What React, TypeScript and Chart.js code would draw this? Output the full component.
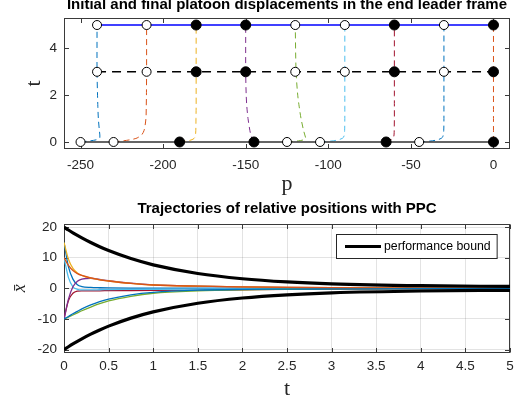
import React, { useEffect, useRef } from "react";
import { Chart, registerables } from "chart.js";

Chart.register(...registerables);

// ---------------- Top subplot data ----------------
const TOP_TITLE = "Initial and final platoon displacements in the end leader frame";
const P_TICKS = [-250, -200, -150, -100, -50, 0];
const T_TICKS_TOP = [0, 2, 4];
const INIT_P = [-250, -230, -190, -145, -125, -105, -65, -45, 0];
const FINAL_P = [-240, -210, -180, -150, -120, -90, -60, -30, 0];
const FILLED = [false, false, true, true, false, false, true, false, true];
const START_T = 0;
const MID_T = 3;
const END_T = 5;
const TRAJ_T = [0, 0.05, 0.1, 0.15, 0.2, 0.3, 0.5, 1, 1.5, 2, 3, 5];
const TRAJ_1 = [-250, -244, -240, -238.6, -238.3, -238.3, -238.6, -239.2, -239.5, -239.7, -240, -240];
const TRAJ_2 = [-230, -224, -219.5, -216.5, -215, -213, -211.5, -210.4, -210.2, -210.1, -210, -210];
const TRAJ_3 = [-190, -185, -182.5, -181.3, -180.8, -180.4, -180.2, -180.1, -180, -180, -180, -180];
const TRAJ_4 = [-145, -145.4, -145.8, -146.1, -146.4, -146.9, -147.5, -148.6, -149.3, -149.7, -150, -150];
const TRAJ_5 = [-125, -118, -114.5, -113.8, -113.8, -114.2, -115, -116.5, -117.6, -118.5, -119.5, -120];
const TRAJ_6 = [-105, -97, -93.5, -91.7, -90.8, -90.3, -90.1, -90, -90, -90, -90, -90];
const TRAJ_7 = [-65, -63, -61.8, -61, -60.5, -60.2, -60.1, -60, -60, -60, -60, -60];
const TRAJ_8 = [-45, -37, -33.5, -31.8, -30.9, -30.4, -30.1, -30, -30, -30, -30, -30];
const TRAJ_9 = [0, 0, 0, 0, 0, 0, 0, 0, 0, 0, 0, 0];
const TRAJS = [TRAJ_1, TRAJ_2, TRAJ_3, TRAJ_4, TRAJ_5, TRAJ_6, TRAJ_7, TRAJ_8, TRAJ_9];
const TRAJ_COLORS = ["#0072BD", "#D95319", "#EDB120", "#7E2F8E", "#77AC30", "#4DBEEE", "#A2142F", "#0072BD", "#D95319"];

// ---------------- Bottom subplot data ----------------
const BOTTOM_TITLE = "Trajectories of relative positions with PPC";
const LEGEND_LABEL = "performance bound";
const TIME_TICKS = [0, 0.5, 1, 1.5, 2, 2.5, 3, 3.5, 4, 4.5, 5];
const XBAR_TICKS = [-20, -10, 0, 10, 20];
const TIME = [0, 0.05, 0.1, 0.15, 0.2, 0.3, 0.4, 0.5, 0.75, 1, 1.5, 2, 2.5, 3, 4, 5];
const BOUND_UP = [20, 19.05, 18.14, 17.28, 16.47, 14.95, 13.57, 12.33, 9.71, 7.67, 4.85, 3.14, 2.1, 1.47, 0.86, 0.63];
const BOUND_LOW = [-20, -19.05, -18.14, -17.28, -16.47, -14.95, -13.57, -12.33, -9.71, -7.67, -4.85, -3.14, -2.1, -1.47, -0.86, -0.63];
const XBAR_1 = [-10, -9.2, -8.3, -7.5, -6.7, -5.4, -4.3, -3.5, -2.1, -1.3, -0.6, -0.35, -0.25, -0.2, -0.1, -0.05];
const XBAR_2 = [10, 7.5, 5.8, 4.8, 4.2, 3.4, 2.8, 2.4, 1.6, 1.1, 0.7, 0.45, 0.3, 0.2, 0.1, 0.05];
const XBAR_3 = [15, 9.5, 6.5, 5.0, 4.2, 3.3, 2.8, 2.4, 1.6, 1.1, 0.7, 0.45, 0.3, 0.2, 0.1, 0.05];
const XBAR_4 = [-10, -3.5, 0.5, 2.3, 3.0, 3.3, 2.9, 2.5, 1.7, 1.15, 0.72, 0.47, 0.3, 0.2, 0.1, 0.05];
const XBAR_5 = [-10, -9.4, -8.7, -8.0, -7.3, -6.1, -5.0, -4.1, -2.6, -1.6, -0.8, -0.45, -0.3, -0.2, -0.1, -0.05];
const XBAR_6 = [10, 3.5, 0.5, -0.3, -0.5, -0.5, -0.45, -0.4, -0.35, -0.3, -0.25, -0.2, -0.15, -0.1, -0.05, 0];
const XBAR_7 = [-10, -4.0, -1.6, -0.9, -0.8, -0.8, -0.8, -0.75, -0.7, -0.65, -0.55, -0.45, -0.35, -0.3, -0.2, -0.1];
const XBAR_8 = [15, 7, 3, 1.2, 0.6, 0.3, 0.2, 0.15, 0.1, 0.1, 0.05, 0.05, 0, 0, 0, 0];
const XBARS = [XBAR_1, XBAR_2, XBAR_3, XBAR_4, XBAR_5, XBAR_6, XBAR_7, XBAR_8];
const XBAR_COLORS = ["#0072BD", "#D95319", "#EDB120", "#7E2F8E", "#77AC30", "#4DBEEE", "#A2142F", "#0072BD"];

// ---------------- Styling ----------------
const SANS = "'Liberation Sans', Arial, Helvetica, sans-serif";
const SERIF = "'Liberation Serif', 'Times New Roman', serif";
const AXIS_COLOR = "#262626";
const TICK_FONT = { family: SANS, size: 13.5 };

const boxPlugin = {
  id: "matlabBox",
  beforeDatasetsDraw(chart: any) {
    const { ctx, chartArea: a, scales } = chart;
    const xs = scales.x;
    const ys = scales.y;
    const L = 4.5;
    ctx.save();
    ctx.strokeStyle = "#3a3a3a";
    ctx.lineWidth = 1;
    const l = Math.round(a.left) + 0.5;
    const r = Math.round(a.right) - 0.5;
    const t = Math.round(a.top) + 0.5;
    const b = Math.round(a.bottom) - 0.5;
    ctx.strokeRect(l, t, r - l, b - t);
    ctx.beginPath();
    xs.ticks.forEach((tk: any) => {
      const px = Math.round(xs.getPixelForValue(tk.value)) + 0.5;
      ctx.moveTo(px, b);
      ctx.lineTo(px, b - L);
      ctx.moveTo(px, t);
      ctx.lineTo(px, t + L);
    });
    ys.ticks.forEach((tk: any) => {
      const py = Math.round(ys.getPixelForValue(tk.value)) + 0.5;
      ctx.moveTo(l, py);
      ctx.lineTo(l + L, py);
      ctx.moveTo(r, py);
      ctx.lineTo(r - L, py);
    });
    ctx.stroke();
    ctx.restore();
  },
};

const legendPlugin = {
  id: "boundLegend",
  afterDraw(chart: any) {
    const { ctx, chartArea: a } = chart;
    ctx.save();
    ctx.font = `12.3px ${SANS}`;
    const tw = ctx.measureText(LEGEND_LABEL).width;
    const w = 48 + tw + 6;
    const h = 24;
    const x0 = Math.round(a.right - 13 - w);
    const y0 = Math.round(a.top + 10);
    ctx.fillStyle = "#ffffff";
    ctx.fillRect(x0, y0, w, h);
    ctx.strokeStyle = AXIS_COLOR;
    ctx.lineWidth = 1;
    ctx.strokeRect(x0 + 0.5, y0 + 0.5, w, h);
    ctx.beginPath();
    ctx.strokeStyle = "#000";
    ctx.lineWidth = 3;
    ctx.moveTo(x0 + 9, y0 + 12.5);
    ctx.lineTo(x0 + 45, y0 + 12.5);
    ctx.stroke();
    ctx.fillStyle = "#000";
    ctx.textBaseline = "middle";
    ctx.textAlign = "left";
    ctx.fillText(LEGEND_LABEL, x0 + 48, y0 + 13);
    ctx.restore();
  },
};

function fixTicks(values: number[]) {
  return (scale: any) => {
    scale.ticks = values.map((v) => ({ value: v }));
  };
}

function TopChart() {
  const ref = useRef<HTMLCanvasElement>(null);
  useEffect(() => {
    if (!ref.current) return;
    const datasets: any[] = [];
    // markers (drawn on top)
    const rows = [
      { t: START_T, p: INIT_P },
      { t: MID_T, p: FINAL_P },
      { t: END_T, p: FINAL_P },
    ];
    rows.forEach((row) => {
      datasets.push({
        data: row.p.filter((_, i) => !FILLED[i]).map((p) => ({ x: p, y: row.t })),
        pointRadius: 4.5,
        pointBorderColor: "#000",
        pointBackgroundColor: "#fff",
        pointBorderWidth: 1,
        showLine: false,
        order: 0,
      });
      datasets.push({
        data: row.p.filter((_, i) => FILLED[i]).map((p) => ({ x: p, y: row.t })),
        pointRadius: 5,
        pointBorderColor: "#000",
        pointBackgroundColor: "#000",
        pointBorderWidth: 1,
        showLine: false,
        order: 0,
      });
    });
    // horizontal lines
    datasets.push({
      data: [{ x: Math.min(...FINAL_P), y: END_T }, { x: Math.max(...FINAL_P), y: END_T }],
      showLine: true, borderColor: "#0000ff", borderWidth: 1.6, pointRadius: 0, order: 1,
    });
    datasets.push({
      data: [{ x: Math.min(...FINAL_P), y: MID_T }, { x: Math.max(...FINAL_P), y: MID_T }],
      showLine: true, borderColor: "#000", borderWidth: 1.5, borderDash: [9, 6], pointRadius: 0, order: 1,
    });
    datasets.push({
      data: [{ x: Math.min(...INIT_P), y: START_T }, { x: Math.max(...INIT_P), y: START_T }],
      showLine: true, borderColor: "#333", borderWidth: 1.5, pointRadius: 0, order: 1,
    });
    // trajectories
    TRAJS.forEach((tr, k) => {
      datasets.push({
        data: tr.map((p, i) => ({ x: p, y: TRAJ_T[i] })),
        showLine: true,
        borderColor: TRAJ_COLORS[k],
        borderWidth: 1,
        borderDash: [6, 4],
        pointRadius: 0,
        tension: 0.3,
        order: 2,
      });
    });
    const chart = new Chart(ref.current, {
      type: "scatter",
      data: { datasets },
      plugins: [boxPlugin],
      options: {
        animation: false,
        responsive: false,
        events: [],
        layout: { padding: { left: 0, right: 10, top: 0, bottom: 0 } },
        plugins: {
          legend: { display: false },
          tooltip: { enabled: false },
          title: {
            display: true,
            text: TOP_TITLE,
            fullSize: false,
            color: "#000",
            font: { family: SANS, size: 15, weight: "bold", lineHeight: 0.6 },
            padding: { top: 0, bottom: 9 },
          },
        },
        scales: {
          x: {
            type: "linear",
            min: -260,
            max: 10,
            afterBuildTicks: fixTicks(P_TICKS),
            afterFit: (s: any) => { s.height = 51; },
            grid: { display: false, drawTicks: false },
            border: { display: false },
            ticks: { color: AXIS_COLOR, font: TICK_FONT, padding: 8.6, maxRotation: 0, callback: (v: any) => String(v) },
            title: { display: true, text: "p", color: AXIS_COLOR, font: { family: SERIF, size: 22, lineHeight: 1 }, padding: { top: 0, bottom: 5 } },
          },
          y: {
            type: "linear",
            min: -0.3,
            max: 5.3,
            afterBuildTicks: fixTicks(T_TICKS_TOP),
            afterFit: (s: any) => { s.width = 64; },
            grid: { display: false, drawTicks: false },
            border: { display: false },
            ticks: { color: AXIS_COLOR, font: TICK_FONT, padding: 7, callback: (v: any) => String(v) },
            title: { display: true, text: "t", color: AXIS_COLOR, font: { family: SERIF, size: 22, lineHeight: 1 }, padding: { top: 23, bottom: 0 } },
          },
        },
      } as any,
    });
    return () => chart.destroy();
  }, []);
  return <canvas ref={ref} width={520} height={200} style={{ position: "absolute", left: 0, top: 0, display: "block" }} />;
}

function BottomChart() {
  const ref = useRef<HTMLCanvasElement>(null);
  useEffect(() => {
    if (!ref.current) return;
    const datasets: any[] = [];
    datasets.push({
      data: TIME.map((t, i) => ({ x: t, y: BOUND_UP[i] })),
      borderColor: "#000", borderWidth: 3.2, pointRadius: 0, cubicInterpolationMode: "monotone", order: 0,
    });
    datasets.push({
      data: TIME.map((t, i) => ({ x: t, y: BOUND_LOW[i] })),
      borderColor: "#000", borderWidth: 3.2, pointRadius: 0, cubicInterpolationMode: "monotone", order: 0,
    });
    XBARS.forEach((arr, k) => {
      datasets.push({
        data: TIME.map((t, i) => ({ x: t, y: arr[i] })),
        borderColor: XBAR_COLORS[k],
        borderWidth: 1.3,
        pointRadius: 0,
        cubicInterpolationMode: "monotone",
        order: 1 + k,
      });
    });
    const chart = new Chart(ref.current, {
      type: "line",
      data: { datasets },
      plugins: [boxPlugin, legendPlugin],
      options: {
        animation: false,
        responsive: false,
        events: [],
        layout: { padding: { left: 0, right: 10, top: 0, bottom: 0 } },
        plugins: {
          legend: { display: false },
          tooltip: { enabled: false },
          title: {
            display: true,
            text: BOTTOM_TITLE,
            fullSize: false,
            color: "#000",
            font: { family: SANS, size: 15, weight: "bold", lineHeight: 0.6 },
            padding: { top: 4.6, bottom: 10.4 },
          },
        },
        scales: {
          x: {
            type: "linear",
            min: 0,
            max: 5,
            afterBuildTicks: fixTicks(TIME_TICKS),
            afterFit: (s: any) => { s.height = 52.3; },
            grid: { display: true, drawTicks: false, color: "rgba(38,38,38,0.13)", lineWidth: 1 },
            border: { display: false },
            ticks: { color: AXIS_COLOR, font: TICK_FONT, padding: 5.9, maxRotation: 0, callback: (v: any) => String(v) },
            title: { display: true, text: "t", color: AXIS_COLOR, font: { family: SERIF, size: 22, lineHeight: 1 }, padding: { top: 0, bottom: 5 } },
          },
          y: {
            type: "linear",
            min: -21,
            max: 21,
            afterBuildTicks: fixTicks(XBAR_TICKS),
            afterFit: (s: any) => { s.width = 64; },
            grid: { display: true, drawTicks: false, color: "rgba(38,38,38,0.13)", lineWidth: 1 },
            border: { display: false },
            ticks: { color: AXIS_COLOR, font: TICK_FONT, padding: 7, callback: (v: any) => String(v) },
            title: { display: true, text: "x\u0304", color: AXIS_COLOR, font: { family: SERIF, size: 18, style: "italic", lineHeight: 1 }, padding: { top: 11.6, bottom: 0 } },
          },
        },
      } as any,
    });
    return () => chart.destroy();
  }, []);
  return <canvas ref={ref} width={520} height={205} style={{ position: "absolute", left: 0, top: 200, display: "block" }} />;
}

export default function App() {
  return (
    <div style={{ position: "absolute", left: 0, top: 0, width: 520, height: 405, background: "#fff", overflow: "hidden" }}>
      <TopChart />
      <BottomChart />
    </div>
  );
}
